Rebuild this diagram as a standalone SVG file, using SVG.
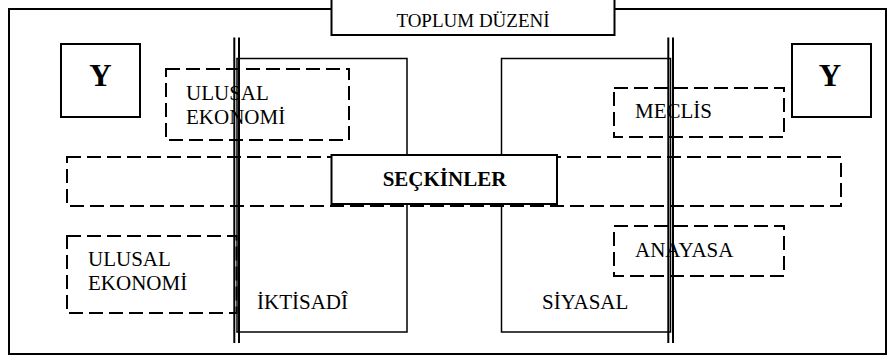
<svg xmlns="http://www.w3.org/2000/svg" width="888" height="358" viewBox="0 0 888 358">
<style>
  .frame{fill:none;stroke:#000;stroke-width:2}
  .box{fill:#fff;stroke:#000;stroke-width:2}
  .col{fill:none;stroke:#000;stroke-width:1.5}
  .dash{fill:none;stroke:#000;stroke-width:2;stroke-dasharray:14 6}
  .t{font-family:"Liberation Serif","Times New Roman",serif;font-size:21px;fill:#000}
  .b{font-weight:bold}
  .line{stroke:#000;stroke-width:2}
</style>
<rect id="frame" class="frame" x="9" y="9" width="877" height="345"/>
<g id="toplum">
  <rect class="box" x="331.5" y="-5" width="283" height="40"/>
  <text class="t" x="473" y="27" text-anchor="middle" style="font-size:19px">TOPLUM DÜZENİ</text>
</g>
<g id="y-left">
  <rect class="box" x="61" y="44" width="79" height="73"/>
  <text class="t b" x="100.5" y="86" text-anchor="middle" style="font-size:31px">Y</text>
</g>
<g id="y-right">
  <rect class="box" x="792" y="44" width="79" height="73"/>
  <text class="t b" x="830" y="86" text-anchor="middle" style="font-size:31px">Y</text>
</g>
<g id="iktisadi">
  <rect class="col" x="237" y="58.5" width="170" height="273.5"/>
  <text class="t" x="257" y="309">İKTİSADÎ</text>
</g>
<g id="siyasal">
  <rect class="col" x="501.5" y="58.5" width="169" height="273.5"/>
  <text class="t" x="542" y="309">SİYASAL</text>
</g>
<g id="ulusal-ekonomi-top">
  <rect class="dash" x="166" y="69" width="183" height="71"/>
  <text class="t" x="186" y="100">ULUSAL</text>
  <text class="t" x="186" y="124">EKONOMİ</text>
</g>
<g id="meclis">
  <rect class="dash" x="614" y="88" width="170" height="49"/>
  <text class="t" x="635" y="118">MECLİS</text>
</g>
<g id="wide-band">
  <rect class="dash" x="67" y="157" width="774" height="49"/>
</g>
<g id="anayasa">
  <rect class="dash" x="614" y="226" width="170" height="50"/>
  <text class="t" x="635" y="257">ANAYASA</text>
</g>
<g id="ulusal-ekonomi-bottom">
  <rect class="dash" x="67" y="236" width="169.5" height="77"/>
  <text class="t" x="88" y="266">ULUSAL</text>
  <text class="t" x="88" y="290">EKONOMİ</text>
</g>
<g id="seckinler">
  <rect class="box" x="331.5" y="155" width="225.5" height="49"/>
  <text class="t b" x="444.5" y="186" text-anchor="middle">SEÇKİNLER</text>
</g>
<g id="connectors">
  <line class="line" x1="234.3" y1="37.5" x2="234.3" y2="343"/>
  <line class="line" x1="239" y1="37.5" x2="239" y2="343"/>
  <line class="line" x1="668.3" y1="37.5" x2="668.3" y2="343"/>
  <line class="line" x1="673" y1="37.5" x2="673" y2="343"/>
</g>
</svg>
